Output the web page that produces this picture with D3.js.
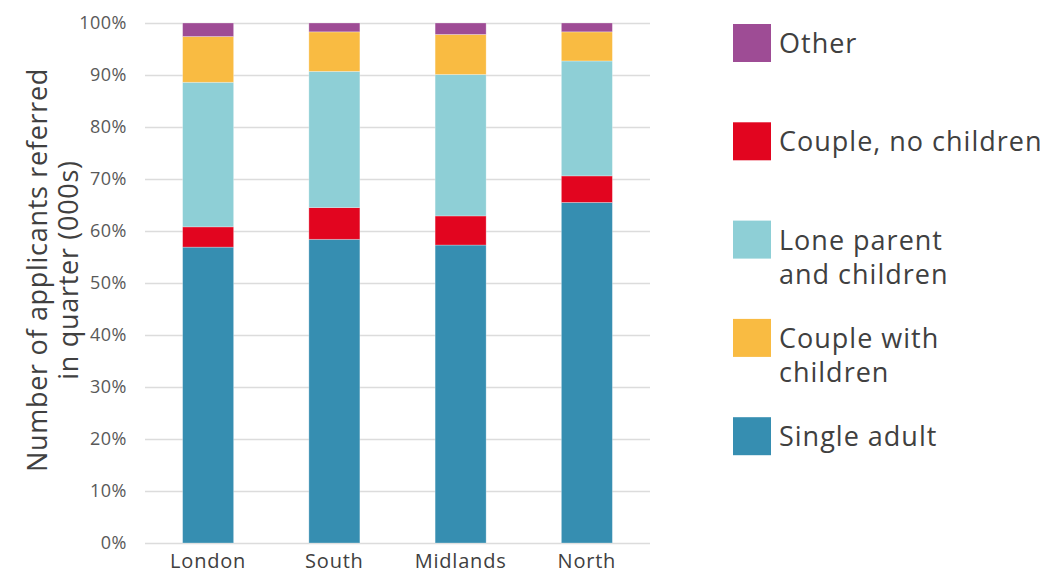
<!DOCTYPE html>
<html>
<head>
<meta charset="utf-8">
<script src="https://cdn.jsdelivr.net/npm/d3@7"></script>
<style>
  body { margin: 0; background: #fff; }
  text { font-family: "Open Sans", Lato, sans-serif; }
</style>
</head>
<body>
<div id="chart"></div>
<script>
// regions along the x axis
var regions = ['London', 'South', 'Midlands', 'North'];

// series, bottom to top (percent of applicants)
var singleAdult   = [56.9, 58.4, 57.3, 65.5];
var coupleNoKids  = [3.9, 6.1, 5.6, 5.1];
var loneParent    = [27.8, 26.2, 27.2, 22.1];
var coupleWithKids = [8.8, 7.6, 7.7, 5.6];
var other         = [2.6, 1.7, 2.2, 1.7];

var seriesNames = ['Single adult', 'Couple, no children', 'Lone parent and children', 'Couple with children', 'Other'];
var seriesColors = ['#368eb1', '#e2051f', '#8ecfd6', '#f9bb42', '#9e4c95'];
var yTicks = [0, 10, 20, 30, 40, 50, 60, 70, 80, 90, 100];

// legend labels, top to bottom, broken into lines like the original
var legendLabels = [['Other'], ['Couple, no children'], ['Lone parent', 'and children'], ['Couple with', 'children'], ['Single adult']];
var legendColors = ['#9e4c95', '#e2051f', '#8ecfd6', '#f9bb42', '#368eb1'];

var width = 1045, height = 573;
var margin = { left: 145, right: 395, top: 23, bottom: 30 };

var svg = d3.select('#chart').append('svg')
  .attr('width', width)
  .attr('height', height);

var rows = regions.map(function (r, i) {
  return {
    region: r,
    s0: singleAdult[i], s1: coupleNoKids[i], s2: loneParent[i], s3: coupleWithKids[i], s4: other[i]
  };
});
var keys = ['s0', 's1', 's2', 's3', 's4'];
var stacked = d3.stack().keys(keys)(rows);

var x = d3.scaleBand()
  .domain(regions)
  .range([margin.left, width - margin.right])
  .paddingInner(0.596)
  .paddingOuter(0.298);

var y = d3.scaleLinear()
  .domain([0, 100])
  .range([height - margin.bottom, margin.top]);

// gridlines
svg.append('g').selectAll('line')
  .data(yTicks)
  .enter().append('line')
  .attr('x1', margin.left)
  .attr('x2', width - margin.right)
  .attr('y1', function (d) { return Math.round(y(d)) + 0.5; })
  .attr('y2', function (d) { return Math.round(y(d)) + 0.5; })
  .attr('stroke', '#dcdcdc')
  .attr('stroke-width', 1.5);

// y tick labels
svg.append('g').selectAll('text')
  .data(yTicks)
  .enter().append('text')
  .attr('x', 127)
  .attr('y', function (d) { return y(d); })
  .attr('dy', '0.35em')
  .attr('text-anchor', 'end')
  .attr('font-size', 18)
  .attr('letter-spacing', 0.5)
  .attr('fill', '#595959')
  .text(function (d) { return d + '%'; });

// bars
svg.append('g').selectAll('g')
  .data(stacked)
  .enter().append('g')
  .attr('fill', function (d, i) { return seriesColors[i]; })
  .selectAll('rect')
  .data(function (d) { return d; })
  .enter().append('rect')
  .attr('x', function (d) { return x(d.data.region); })
  .attr('width', x.bandwidth())
  .attr('y', function (d) { return y(d[1]); })
  .attr('height', function (d) { return y(d[0]) - y(d[1]); })
  .attr('stroke', '#ffffff')
  .attr('stroke-opacity', 0.35)
  .attr('stroke-width', 0.8);

// x labels
svg.append('g').selectAll('text')
  .data(regions)
  .enter().append('text')
  .attr('x', function (d) { return x(d) + x.bandwidth() / 2; })
  .attr('y', 568)
  .attr('text-anchor', 'middle')
  .attr('font-size', 20)
  .attr('letter-spacing', 0.8)
  .attr('fill', '#404040')
  .text(function (d) { return d; });

// axis title
var title = svg.append('text')
  .attr('transform', 'translate(47,270) rotate(-90)')
  .attr('text-anchor', 'middle')
  .attr('font-size', 27)
  .attr('letter-spacing', 0.7)
  .attr('fill', '#404040');
title.append('tspan').attr('x', 0).attr('dy', 0).text('Number of applicants referred');
title.append('tspan').attr('x', 0).attr('dy', 31).text('in quarter (000s)');

// legend
var legend = svg.append('g').selectAll('g')
  .data(legendLabels)
  .enter().append('g')
  .attr('transform', function (d, i) { return 'translate(733,' + (24 + i * 98.3) + ')'; });

legend.append('rect')
  .attr('width', 38)
  .attr('height', 38)
  .attr('fill', function (d, i) { return legendColors[i]; });

legend.append('text')
  .attr('font-size', 27)
  .attr('letter-spacing', 1)
  .attr('fill', '#404040')
  .selectAll('tspan')
  .data(function (d) { return d; })
  .enter().append('tspan')
  .attr('x', 46)
  .attr('y', function (d, i) { return 29 + i * 34; })
  .text(function (d) { return d; });
</script>
</body>
</html>
